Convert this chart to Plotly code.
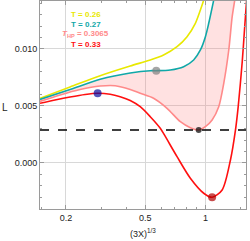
import plotly.graph_objects as go

# ---- data ----
yellow_s = [0.1482, 0.2097, 0.2968, 0.4199, 0.5292, 0.6172, 0.7208, 0.8091, 0.8906, 0.9439, 0.9806, 1.0058]
yellow_L = [0.005675, 0.006667, 0.007658, 0.008509, 0.009035, 0.009474, 0.010202, 0.011079, 0.012254, 0.013421, 0.014298, 0.0150]

teal_s = [0.1482, 0.2097, 0.2968, 0.4199, 0.5292, 0.5672, 0.6668, 0.7780, 0.8733, 0.9439, 1.0, 1.0390, 1.1009, 1.1226]
teal_L = [0.005570, 0.006447, 0.007342, 0.007895, 0.008096, 0.008096, 0.008158, 0.008447, 0.009035, 0.009912, 0.011079, 0.012254, 0.014298, 0.0150]

pink_s = [0.1482, 0.1867, 0.2353, 0.2968, 0.3530, 0.4199, 0.4713, 0.5497, 0.6421, 0.7489, 0.8406, 0.9254, 1.0, 1.0806, 1.1663, 1.2359, 1.3096, 1.3621, 1.4035, 1.4233]
pink_L = [0.005395, 0.005965, 0.006447, 0.006754, 0.006781, 0.006447, 0.006114, 0.005675, 0.004798, 0.003623, 0.003096, 0.002895, 0.003184, 0.003772, 0.004939, 0.006991, 0.009912, 0.012833, 0.014298, 0.0150]

red_s = [0.1482, 0.1762, 0.2097, 0.2495, 0.2883, 0.3332, 0.3740, 0.4199, 0.4713, 0.5292, 0.5940, 0.6230, 0.7208, 0.8406, 0.9806, 1.0806, 1.2131, 1.3354, 1.4152, 1.4601, 1.5293, 1.5700, 1.6163]
red_L = [0.005237, 0.005526, 0.005789, 0.006009, 0.006114, 0.006026, 0.005807, 0.005482, 0.004939, 0.004061, 0.003044, 0.002456, 0.000553, -0.001342, -0.002658, -0.003009, -0.002368, 0.000263, 0.002895, 0.004939, 0.008860, 0.011667, 0.014737]

L_HP = 0.002895
points_s = [0.2883, 0.5672, 0.9254, 1.0806]
points_L = [0.006114, 0.008096, 0.002895, -0.003009]
points_color = ["#0a0a9e", "#808080", "#000000", "#b00000"]
points_size = [8, 8, 6, 8]

legend_labels = ["T = 0.26", "T = 0.27", "<i>T</i><sub>HP</sub> = 0.3065", "T = 0.33"]
legend_colors = ["#e8e800", "#10a8a8", "#ff8a8a", "#ff1010"]

x_tickvals = [0.2, 0.5, 1]
x_ticktext = ["0.2", "0.5", "1"]
y_tickvals = [0.0, 0.005, 0.010]
y_ticktext = ["0.000", "0.005", "0.010"]

fig = go.Figure()

# shaded region between teal and pink
fig.add_trace(go.Scatter(x=pink_s, y=pink_L, mode="lines", line=dict(width=0, shape="spline", smoothing=0.8),
                         hoverinfo="skip", showlegend=False))
fig.add_trace(go.Scatter(x=teal_s, y=teal_L, mode="lines", line=dict(width=0, shape="spline", smoothing=0.8),
                         fill="tonexty", fillcolor="rgba(255,120,120,0.22)", hoverinfo="skip", showlegend=False))

for xs, ys, c in [(yellow_s, yellow_L, legend_colors[0]), (teal_s, teal_L, legend_colors[1]),
                  (pink_s, pink_L, legend_colors[2]), (red_s, red_L, legend_colors[3])]:
    fig.add_trace(go.Scatter(x=xs, y=ys, mode="lines",
                             line=dict(color=c, width=1.6, shape="spline", smoothing=0.8),
                             showlegend=False))

fig.add_hline(y=L_HP, line=dict(color="black", width=1.4, dash="dash"))

fig.add_trace(go.Scatter(x=points_s, y=points_L, mode="markers",
                         marker=dict(color=points_color, size=points_size, line=dict(width=0)),
                         showlegend=False))

for i, (t, c) in enumerate(zip(legend_labels, legend_colors)):
    fig.add_annotation(x=0.2233, y=0.9375 - i * 0.0481, xref="paper", yref="paper",
                       text="<b>%s</b>" % t, showarrow=False,
                       font=dict(family="Liberation Sans", size=8, color=c),
                       xanchor="center", yanchor="middle")

fig.add_annotation(x=-0.17, y=0.49, xref="paper", yref="paper", text="L", showarrow=False,
                   font=dict(family="Liberation Sans", size=10, color="#222"), xanchor="center", yanchor="middle")
fig.add_annotation(x=0.5, y=-0.115, xref="paper", yref="paper", text="(3X)<sup>1/3</sup>", showarrow=False,
                   font=dict(family="Liberation Sans", size=9, color="#222"), xanchor="center", yanchor="middle")

axis_common = dict(showline=True, linecolor="#9a9a9a", linewidth=1, mirror="allticks",
                   ticks="inside", ticklen=4, tickcolor="#9a9a9a",
                   showgrid=True, gridcolor="#d8d8d8", gridwidth=1, zeroline=False,
                   tickfont=dict(family="Liberation Sans", size=9, color="#222"))

fig.update_xaxes(type="log", range=[-0.8291, 0.2035], tickvals=x_tickvals, ticktext=x_ticktext,
                 minor=dict(ticks="inside", ticklen=2, tickcolor="#9a9a9a",
                            tickvals=[0.15, 0.3, 0.4, 0.6, 0.7, 0.8, 0.9, 1.5], showgrid=False),
                 **axis_common)
fig.update_yaxes(range=[-0.00404, 0.01421], tickvals=y_tickvals, ticktext=y_ticktext,
                 minor=dict(ticks="inside", ticklen=2, tickcolor="#9a9a9a", dtick=0.001, tick0=0, showgrid=False),
                 **axis_common)

fig.update_layout(width=250, height=241, margin=dict(l=40, r=4, t=1, b=32),
                  plot_bgcolor="white", paper_bgcolor="white", showlegend=False)

fig.write_html("out.html", config={"displayModeBar": False},
               post_script="document.body.style.margin='0';document.body.style.overflow='hidden';")
